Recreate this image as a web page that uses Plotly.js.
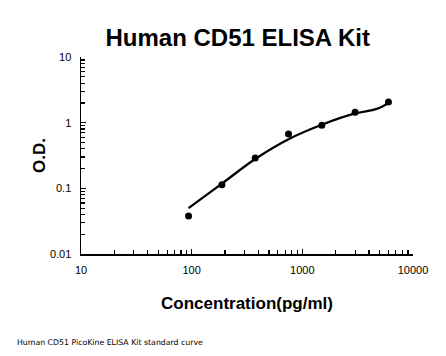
<!DOCTYPE html>
<html><head><meta charset="utf-8">
<script src="https://cdn.plot.ly/plotly-3.0.1.min.js"></script>
<style>body{margin:0;background:#fff}#c{width:446px;height:356px}</style>
</head><body><div id="c"></div>
<script>
const concentration = [93.75, 187.5, 375, 750, 1500, 3000, 6000];
const odMeasured = [0.038, 0.113, 0.29, 0.67, 0.91, 1.44, 2.07];
const fitConcentration = [93.75, 187.5, 375, 750, 1500, 3000, 4700, 6000];
const fitOD = [0.05, 0.118, 0.28, 0.56, 0.93, 1.38, 1.62, 2.0];
const xTickVals = [10, 100, 1000, 10000];
const xTickText = ['10', '100', '1000', '10000'];
const yTickVals = [0.01, 0.1, 1, 10];
const yTickText = ['0.01', '0.1', '1', '10'];

function minorLog(lo, hi) {
  const out = [];
  for (let d = lo; d < hi; d *= 10) for (let k = 2; k <= 9; k++) out.push(+(d * k).toPrecision(6));
  return out;
}

const traces = [
  {x: fitConcentration, y: fitOD, mode: 'lines', line: {color: '#000', width: 2.3, shape: 'spline', smoothing: 1}, hoverinfo: 'skip'},
  {x: concentration, y: odMeasured, mode: 'markers', marker: {color: '#000', size: 7}}
];
const fam = 'Liberation Sans, Arial, sans-serif';
const axisFont = {family: fam, size: 11, color: '#000'};
const layout = {
  width: 446, height: 356,
  margin: {l: 81, r: 33, t: 57, b: 102},
  paper_bgcolor: '#fff', plot_bgcolor: '#fff',
  showlegend: false,
  title: {text: '<b>Human CD51 ELISA Kit</b>', x: 0.533, xanchor: 'center', y: 0.893, yanchor: 'middle',
    font: {family: fam, size: 24, color: '#000'}},
  xaxis: {type: 'log', range: [1, 4], showgrid: false, zeroline: false,
    showline: true, linecolor: '#000', linewidth: 1.5,
    tickmode: 'array', tickvals: xTickVals, ticktext: xTickText,
    ticks: 'inside', ticklen: 5, tickwidth: 1.2, tickcolor: '#000', ticklabelstandoff: 5,
    minor: {tickmode: 'array', tickvals: minorLog(10, 10000), ticks: 'inside', ticklen: 4, tickwidth: 1.2, tickcolor: '#000', showgrid: false},
    tickfont: axisFont,
    title: {text: '<b>Concentration(pg/ml)</b>', font: {family: fam, size: 17, color: '#000'}, standoff: 22}},
  yaxis: {type: 'log', range: [-2, 1], showgrid: false, zeroline: false,
    showline: true, linecolor: '#000', linewidth: 1.5,
    tickmode: 'array', tickvals: yTickVals, ticktext: yTickText,
    ticks: 'inside', ticklen: 5, tickwidth: 1.2, tickcolor: '#000', ticklabelstandoff: 6,
    minor: {tickmode: 'array', tickvals: minorLog(0.01, 10), ticks: 'inside', ticklen: 4, tickwidth: 1.2, tickcolor: '#000', showgrid: false},
    tickfont: axisFont,
    title: {text: '<b>O.D.</b>', font: {family: fam, size: 17, color: '#000'}, standoff: 0}},
  annotations: [{text: 'Human CD51 PicoKine ELISA Kit standard curve', xref: 'paper', yref: 'paper',
    x: -0.2, y: -0.45, xanchor: 'left', yanchor: 'middle', showarrow: false,
    font: {family: 'DejaVu Sans, sans-serif', size: 7.8, color: '#000'}}]
};
Plotly.newPlot('c', traces, layout, {staticPlot: true});
</script></body></html>
